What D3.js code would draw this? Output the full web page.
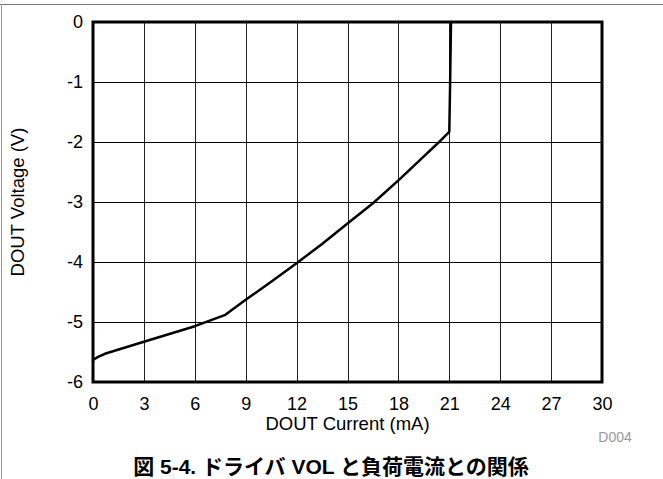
<!DOCTYPE html>
<html lang="ja">
<head>
    <meta charset="UTF-8">
    <title>ドライバ VOL と負荷電流との関係</title>

    <script src="https://d3js.org/d3.v7.min.js"></script>

    <style>
        body {
            margin: 0;
            background: #fff;
        }

        svg text {
            font-family: "Liberation Sans", Arial, sans-serif;
            fill: #000;
        }

        .caption {
            font-family: "Liberation Sans", "Noto Sans CJK JP", sans-serif !important;
            font-weight: bold;
        }
    </style>

    <script>

        let currentMA = [0, 0.3, 0.7, 3, 6, 7.8, 9, 10.5, 12, 13.5, 15, 16.5, 18, 19.5, 20.4, 21, 21.05, 21.1];
        let voltageV = [-5.63, -5.58, -5.53, -5.33, -5.07, -4.88, -4.63, -4.33, -4.02, -3.70, -3.36, -3.02, -2.64, -2.24, -2.0, -1.83, -1.0, 0];

        let xTicks = [0, 3, 6, 9, 12, 15, 18, 21, 24, 27, 30];
        let yTicks = [0, -1, -2, -3, -4, -5, -6];

        let xTitle = "DOUT Current (mA)";
        let yTitle = "DOUT Voltage (V)";
        let caption = "図 5-4. ドライバ VOL と負荷電流との関係";
        let figId = "D004";

        document.addEventListener("DOMContentLoaded", function() {
            drawChart();
        });

        function drawChart() {
            const W = 663, H = 479;
            const margins = {top: 22, right: 61, bottom: 97, left: 93};
            const width = W - margins.left - margins.right;
            const height = H - margins.top - margins.bottom;

            const root = d3.select("svg").attr("width", W).attr("height", H);

            // page border lines (top and left)
            root.append("line").attr("x1", 0).attr("x2", W).attr("y1", 4.5).attr("y2", 4.5)
                .attr("stroke", "#777").attr("stroke-width", 1);
            root.append("line").attr("x1", 1.5).attr("x2", 1.5).attr("y1", 4).attr("y2", H)
                .attr("stroke", "#999").attr("stroke-width", 1);

            const svg = root.append("g")
                .attr("transform", "translate(" + margins.left + "," + margins.top + ")");

            const x = d3.scaleLinear().domain([0, 30]).range([0, width]);
            const y = d3.scaleLinear().domain([-6, 0]).range([height, 0]);

            // grid
            svg.append("g")
                .selectAll("line")
                .data(xTicks)
                .join("line")
                .attr("x1", d => Math.round(x(d)) + 0.5)
                .attr("x2", d => Math.round(x(d)) + 0.5)
                .attr("y1", 0)
                .attr("y2", height)
                .attr("stroke", "#222")
                .attr("stroke-width", 1);

            svg.append("g")
                .selectAll("line")
                .data(yTicks)
                .join("line")
                .attr("x1", 0)
                .attr("x2", width)
                .attr("y1", d => Math.round(y(d)) + 0.5)
                .attr("y2", d => Math.round(y(d)) + 0.5)
                .attr("stroke", "#000")
                .attr("stroke-width", 1);

            // axes (labels only)
            const xAxis = svg.append("g")
                .attr("transform", `translate(0,${height})`)
                .call(d3.axisBottom(x).tickValues(xTicks).tickSize(0).tickPadding(15).tickFormat(d3.format("d")));
            const yAxis = svg.append("g")
                .call(d3.axisLeft(y).tickValues(yTicks).tickSize(0).tickPadding(10).tickFormat(d3.format("d")));

            [xAxis, yAxis].forEach(function(a) {
                a.select(".domain").remove();
                a.selectAll("text").style("font-size", "18px").attr("fill", "#000")
                    .style("font-family", "'Liberation Sans', Arial, sans-serif");
            });
            yAxis.selectAll("text").text(d => d === 0 ? "0" : "-" + Math.abs(d));

            // frame
            svg.append("rect")
                .attr("x", 0).attr("y", 0)
                .attr("width", width).attr("height", height)
                .attr("fill", "none")
                .attr("stroke", "#000")
                .attr("stroke-width", 3);

            // curve
            const data = currentMA.map((c, i) => ({c: c, v: voltageV[i]}));
            const line = d3.line()
                .x(d => x(d.c))
                .y(d => y(d.v));

            svg.append("path")
                .datum(data)
                .attr("d", line)
                .attr("fill", "none")
                .attr("stroke", "#000")
                .attr("stroke-width", 2.5)
                .attr("stroke-linejoin", "round");

            // titles
            svg.append("text")
                .attr("x", width / 2)
                .attr("y", height + 48)
                .attr("text-anchor", "middle")
                .style("font-size", "18.5px")
                .text(xTitle);

            svg.append("text")
                .attr("transform", `translate(${-69},${height / 2}) rotate(-90)`)
                .attr("text-anchor", "middle")
                .style("font-size", "18.5px")
                .text(yTitle);

            svg.append("text")
                .attr("x", width + 13)
                .attr("y", height + 60)
                .attr("text-anchor", "middle")
                .style("font-size", "14px")
                .style("fill", "#999")
                .text(figId);

            root.append("text")
                .attr("class", "caption")
                .attr("x", 331)
                .attr("y", 474)
                .attr("text-anchor", "middle")
                .style("font-size", "21px")
                .text(caption);
        }

    </script>
</head>
<body>
    <svg></svg>
</body>
</html>
